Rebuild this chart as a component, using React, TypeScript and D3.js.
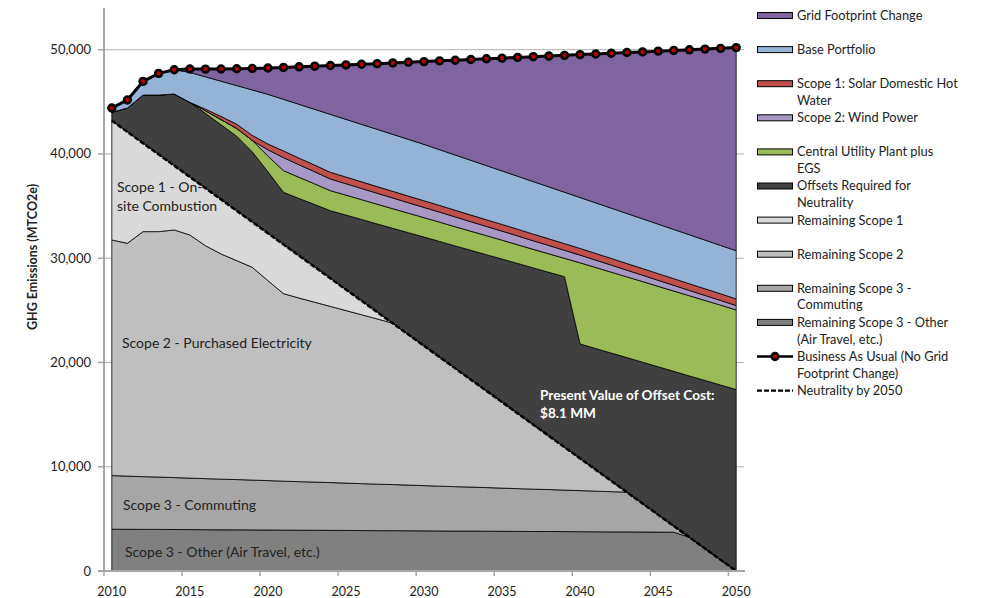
import React from "react";
import * as d3 from "d3";

// -- DATA (MTCO2e per year, stacked bottom to top) --
const years = d3.range(2010, 2051);

const remainingScope3Other = [
  4010, 4000, 3990, 3990, 3980, 3970, 3960, 3950, 3950, 3940, 3930, 3920, 3910, 3910,
  3900, 3890, 3880, 3870, 3870, 3860, 3850, 3840, 3830, 3830, 3820, 3810, 3800, 3790,
  3790, 3780, 3770, 3760, 3750, 3750, 3740, 3730, 3720, 3240, 2160, 1080, 0,
];
const remainingScope3Commuting = [
  5140, 5100, 5060, 5020, 4980, 4940, 4900, 4860, 4820, 4780, 4740, 4700, 4660, 4620,
  4580, 4540, 4500, 4460, 4420, 4380, 4340, 4300, 4260, 4220, 4180, 4140, 4100, 4060,
  4020, 3980, 3940, 3900, 3860, 3810, 2740, 1670, 600, 0, 0, 0, 0,
];
const remainingScope2 = [
  22600, 22330, 23500, 23540, 23750, 23320, 22340, 21600, 21000, 20410, 19180, 17980,
  17610, 17250, 16900, 16550, 16200, 15850, 15470, 14440, 13410, 12380, 11350, 10310,
  9280, 8250, 7220, 6190, 5150, 4120, 3090, 2060, 1030, 0, 0, 0, 0, 0, 0, 0, 0,
];
const remainingScope1 = [
  11450, 10690, 8490, 7410, 6170, 5570, 5520, 5230, 4790, 4350, 4550, 4720, 4060, 3380,
  2700, 2020, 1340, 660, 0, 0, 0, 0, 0, 0, 0, 0, 0, 0, 0, 0, 0, 0, 0, 0, 0, 0, 0, 0, 0,
  0, 0,
];
const offsetsRequired = [
  800, 2280, 4610, 5690, 6870, 7150, 7180, 7160, 7140, 6720, 5900, 5000, 5490, 5990,
  6480, 7140, 7800, 8450, 9110, 9770, 10430, 11090, 11740, 12400, 13060, 13720, 14380,
  15030, 15690, 16350, 10980, 11620, 12260, 12910, 13550, 14190, 14830, 15470, 16120,
  16760, 17400,
];
const centralUtilityPlant = [
  0, 0, 0, 0, 0, 0, 250, 500, 750, 1100, 1500, 2080, 2030, 1980, 1920, 1910, 1900,
  1890, 1880, 1870, 1860, 1850, 1840, 1830, 1820, 1810, 1790, 1780, 1770, 1760, 7780,
  7770, 7760, 7740, 7730, 7710, 7700, 7690, 7670, 7660, 7640,
];
const windPower = [
  0, 0, 0, 0, 0, 0, 0, 0, 0, 0, 600, 1250, 1200, 1160, 1120, 1100, 1070, 1050, 1030,
  1000, 980, 960, 940, 910, 890, 870, 850, 820, 800, 770, 740, 710, 680, 640, 610, 580,
  550, 510, 480, 450, 420,
];
const solarHotWater = [
  0, 0, 0, 0, 0, 0, 150, 300, 400, 480, 560, 640, 640, 640, 640, 640, 640, 640, 640,
  640, 640, 640, 640, 640, 640, 640, 640, 640, 640, 640, 640, 640, 640, 640, 640, 640,
  640, 640, 640, 640, 640,
];
const basePortfolio = [
  410, 780, 1310, 2080, 2330, 2870, 3100, 3380, 3710, 4360, 4760, 4950, 5160, 5350,
  5560, 5530, 5510, 5490, 5460, 5440, 5410, 5350, 5300, 5250, 5190, 5130, 5080, 5040,
  4980, 4930, 4880, 4850, 4820, 4800, 4770, 4750, 4720, 4700, 4670, 4640, 4620,
];
const gridFootprintChange = [
  0, 0, 0, 0, 0, 330, 740, 1170, 1610, 2060, 2530, 3060, 3600, 4140, 4680, 5220, 5760,
  6300, 6850, 7400, 7940, 8520, 9090, 9670, 10250, 10820, 11400, 11980, 12550, 13130,
  13710, 14280, 14860, 15440, 16010, 16590, 17170, 17740, 18320, 18900, 19480,
];
const businessAsUsual = [
  44410, 45180, 46960, 47730, 48080, 48150, 48140, 48150, 48170, 48200, 48250, 48300,
  48360, 48420, 48480, 48540, 48600, 48660, 48730, 48800, 48860, 48930, 48990, 49060,
  49130, 49190, 49260, 49330, 49390, 49460, 49530, 49590, 49660, 49730, 49790, 49860,
  49930, 49990, 50060, 50130, 50200,
];
const neutralityBy2050 = [
  43200, 42120, 41040, 39960, 38880, 37800, 36720, 35640, 34560, 33480, 32400, 31320,
  30240, 29160, 28080, 27000, 25920, 24840, 23760, 22680, 21600, 20520, 19440, 18360,
  17280, 16200, 15120, 14040, 12960, 11880, 10800, 9720, 8640, 7560, 6480, 5400, 4320,
  3240, 2160, 1080, 0,
];

const yTicks = [0, 10000, 20000, 30000, 40000, 50000];
const xTickYears = [2010, 2015, 2020, 2025, 2030, 2035, 2040, 2045, 2050];

// stack order, bottom first
const layers = [
  { key: "other", values: remainingScope3Other, color: "#808080", label: ["Remaining Scope 3 - Other", "(Air Travel, etc.)"] },
  { key: "commuting", values: remainingScope3Commuting, color: "#a6a6a6", label: ["Remaining Scope 3 -", "Commuting"] },
  { key: "scope2", values: remainingScope2, color: "#bfbfbf", label: ["Remaining Scope 2"] },
  { key: "scope1", values: remainingScope1, color: "#d9d9d9", label: ["Remaining Scope 1"] },
  { key: "offsets", values: offsetsRequired, color: "#404040", label: ["Offsets Required for", "Neutrality"] },
  { key: "cup", values: centralUtilityPlant, color: "#9bbb59", label: ["Central Utility Plant plus", "EGS"] },
  { key: "wind", values: windPower, color: "#a898c4", label: ["Scope 2: Wind Power"] },
  { key: "solar", values: solarHotWater, color: "#c0504d", label: ["Scope 1: Solar Domestic Hot", "Water"] },
  { key: "base", values: basePortfolio, color: "#95b3d7", label: ["Base Portfolio"] },
  { key: "grid", values: gridFootprintChange, color: "#8064a2", label: ["Grid Footprint Change"] },
];

const FONT = "Lato, 'Open Sans', sans-serif";

export default function App() {
  // scales
  const x = d3.scaleBand<number>().domain(years).range([104, 744]);
  const xc = (yr: number) => (x(yr) as number) + x.bandwidth() / 2;
  const y = d3.scaleLinear().domain([0, 54000]).range([571, 8]);

  const table = years.map((yr, i) => {
    const row: any = { year: yr };
    layers.forEach((l) => (row[l.key] = l.values[i]));
    return row;
  });
  const stacked = d3.stack<any>().keys(layers.map((l) => l.key))(table);

  const area = d3
    .area<any>()
    .x((d) => xc(d.data.year))
    .y0((d) => y(d[0]))
    .y1((d) => y(d[1]));

  const line = d3
    .line<number>()
    .x((_, i) => xc(years[i]))
    .y((d) => y(d));

  // legend: top series first, then the two lines
  const legendItems = [...layers].reverse();
  const legendY = (i: number) => 15.5 + 34.1 * i;

  return (
    <svg
      width={981}
      height={598}
      style={{ position: "absolute", left: 0, top: 0, background: "#fff" }}
      fontFamily={FONT}
    >
      {/* gridlines */}
      {yTicks.slice(1).map((t) => (
        <line key={t} x1={104} x2={744} y1={y(t)} y2={y(t)} stroke="#b0b0b0" strokeWidth={1} />
      ))}

      {/* stacked areas */}
      {stacked.map((s, i) => (
        <path key={s.key} d={area(s) as string} fill={layers[i].color} stroke="#000" strokeWidth={0.8} />
      ))}

      {/* neutrality line */}
      <path d={line(neutralityBy2050) as string} fill="none" stroke="#000" strokeWidth={2.6} strokeDasharray="5 2" />

      {/* business as usual */}
      <path d={line(businessAsUsual) as string} fill="none" stroke="#000" strokeWidth={3} />
      {businessAsUsual.map((v, i) => (
        <circle key={i} cx={xc(years[i])} cy={y(v)} r={3.4} fill="#c00000" stroke="#000" strokeWidth={2.6} />
      ))}

      {/* axes */}
      <line x1={104} x2={104} y1={8} y2={572} stroke="#a6a6a6" strokeWidth={2} />
      <line x1={98} x2={745} y1={571} y2={571} stroke="#a6a6a6" strokeWidth={2} />
      {yTicks.map((t) => (
        <g key={t}>
          <line x1={98} x2={104} y1={y(t)} y2={y(t)} stroke="#a6a6a6" strokeWidth={1.5} />
          <text x={91} y={y(t) + 4.5} textAnchor="end" fontSize={13} fill="#222">
            {d3.format(",")(t)}
          </text>
        </g>
      ))}
      {xTickYears.map((yr) => (
        <g key={yr}>
          <line x1={x(yr)} x2={x(yr)} y1={571} y2={576} stroke="#a6a6a6" strokeWidth={1.5} />
          <text x={xc(yr)} y={596} textAnchor="middle" fontSize={12.5} fill="#222">
            {yr}
          </text>
        </g>
      ))}
      <text
        transform="translate(37,257) rotate(-90)"
        textAnchor="middle"
        fontSize={12.5}
        fontWeight="bold"
        fill="#222"
      >
        GHG Emissions  (MTCO2e)
      </text>

      {/* annotations */}
      <g fontSize={14} fill="#222">
        <text x={117} y={192}>Scope 1 - On-</text>
        <text x={117} y={211}>site Combustion</text>
        <text x={122} y={348}>Scope 2 - Purchased Electricity</text>
        <text x={123} y={510}>Scope 3 - Commuting</text>
        <text x={125} y={557}>Scope 3 - Other (Air Travel, etc.)</text>
      </g>
      <g fontSize={13.6} fontWeight="bold" fill="#fff">
        <text x={540} y={400}>Present Value of Offset Cost:</text>
        <text x={540} y={418}>$8.1 MM</text>
      </g>

      {/* legend */}
      <g fontSize={12.8} fill="#222">
        {legendItems.map((l, i) => (
          <g key={l.key}>
            <rect x={757.5} y={legendY(i) - 3} width={35} height={6} fill={l.color} stroke="#000" strokeWidth={1} />
            {l.label.map((t, j) => (
              <text key={j} x={797} y={legendY(i) + 4.4 + j * 16.7}>
                {t}
              </text>
            ))}
          </g>
        ))}
        <g>
          <line x1={757} x2={793} y1={legendY(10)} y2={legendY(10)} stroke="#000" strokeWidth={2.6} />
          <circle cx={775} cy={legendY(10)} r={3.4} fill="#c00000" stroke="#000" strokeWidth={2.6} />
          <text x={797} y={legendY(10) + 4.4}>Business As Usual (No Grid</text>
          <text x={797} y={legendY(10) + 21.1}>Footprint Change)</text>
        </g>
        <g>
          <line x1={757} x2={793} y1={legendY(11)} y2={legendY(11)} stroke="#000" strokeWidth={2.2} strokeDasharray="5 2" />
          <text x={797} y={legendY(11) + 4.4}>Neutrality by 2050</text>
        </g>
      </g>
    </svg>
  );
}
